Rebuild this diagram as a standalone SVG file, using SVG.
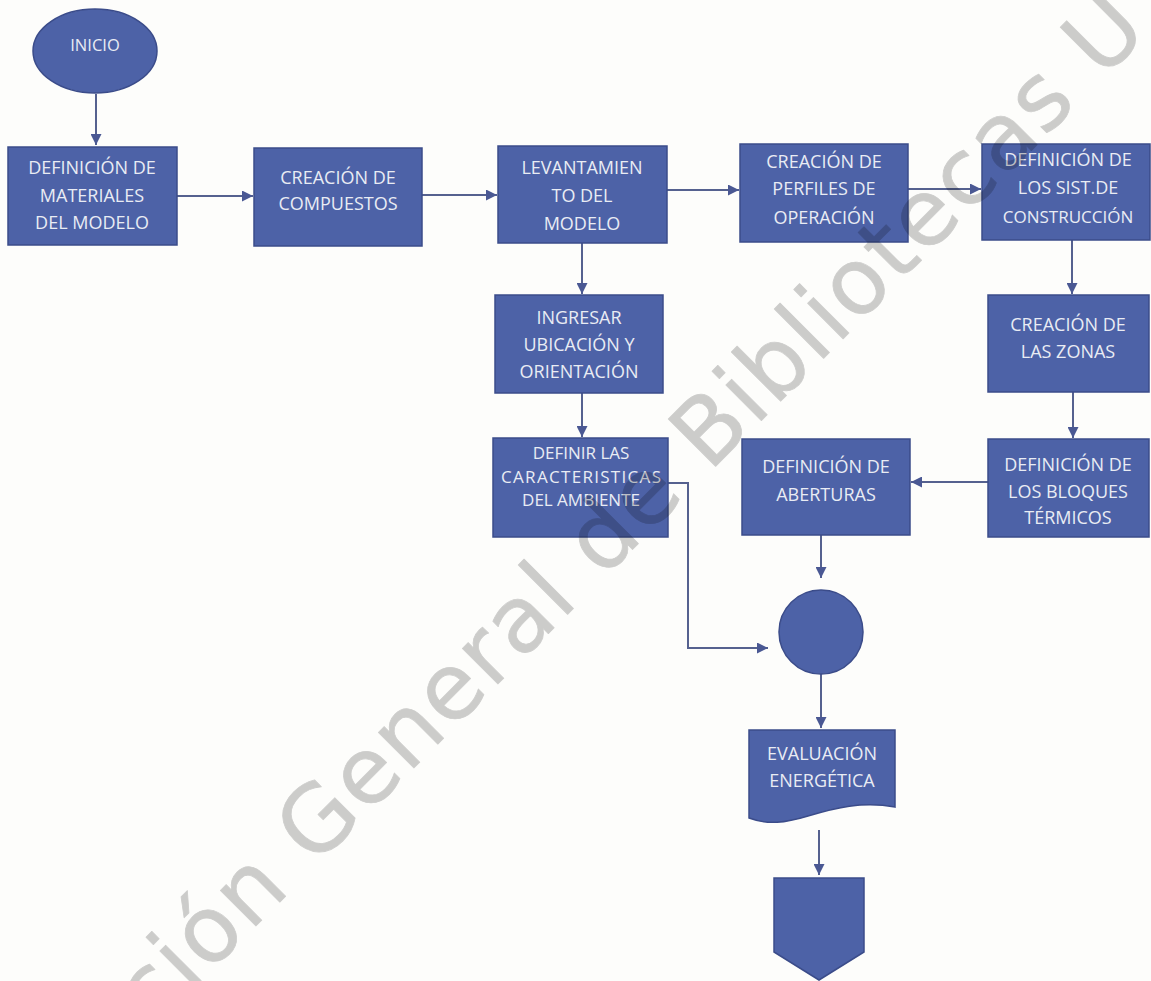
<svg xmlns="http://www.w3.org/2000/svg" width="1151" height="981" viewBox="0 0 1151 981">
<defs>
<style>
.n{fill:#4d62a7;stroke:#3b4c8a;stroke-width:1.5}
.t{font-family:"Open Sans","Liberation Sans",sans-serif;font-size:18px;fill:#e9ecf4;text-anchor:middle}
.c{fill:none;stroke:#55618f;stroke-width:2;marker-end:url(#ah)}
.wm{font-family:"DejaVu Sans","Liberation Sans",sans-serif;font-size:92px;letter-spacing:2px;fill:#000;stroke:#000;stroke-width:0.8;stroke-linejoin:round}
</style>
<marker id="ah" viewBox="0 0 10 10" refX="10" refY="5" markerWidth="11" markerHeight="11" markerUnits="userSpaceOnUse" orient="auto">
<path d="M0,0 L10,5 L0,10 z" fill="#4a5893"/>
</marker>
</defs>
<rect width="1151" height="981" fill="#fdfdfb"/>
<g id="connectors">
<path class="c" d="M96,94 V145"/>
<path class="c" d="M177,196 H253"/>
<path class="c" d="M422,195 H497"/>
<path class="c" d="M667,190 H739"/>
<path class="c" d="M908,189 H981"/>
<path class="c" d="M582,243 V294"/>
<path class="c" d="M582,393 V437"/>
<path class="c" d="M1072,240 V294"/>
<path class="c" d="M1073,392 V438"/>
<path class="c" d="M988,482 H911"/>
<path class="c" d="M668,483 H688 V648 H768"/>
<path class="c" d="M821,535 V578"/>
<path class="c" d="M821,674 V728"/>
<path class="c" d="M819,830 V875"/>
</g>
<g id="inicio">
<ellipse class="n" cx="95" cy="51" rx="62" ry="42"/>
<text class="t" x="95" y="51" style="font-size:16.5px">INICIO</text>
</g>
<g id="materiales">
<rect class="n" x="8" y="147" width="169" height="98"/>
<text class="t" x="92" y="174">DEFINICIÓN DE</text>
<text class="t" x="92" y="202">MATERIALES</text>
<text class="t" x="92" y="229">DEL MODELO</text>
</g>
<g id="compuestos">
<rect class="n" x="254" y="148" width="168" height="98"/>
<text class="t" x="338" y="184">CREACIÓN DE</text>
<text class="t" x="338" y="210">COMPUESTOS</text>
</g>
<g id="levantamiento">
<rect class="n" x="498" y="146" width="169" height="97"/>
<text class="t" x="582" y="174">LEVANTAMIEN</text>
<text class="t" x="582" y="202">TO DEL</text>
<text class="t" x="582" y="230">MODELO</text>
</g>
<g id="perfiles">
<rect class="n" x="740" y="144" width="168" height="98"/>
<text class="t" x="824" y="168">CREACIÓN DE</text>
<text class="t" x="824" y="195">PERFILES DE</text>
<text class="t" x="824" y="224">OPERACIÓN</text>
</g>
<g id="sistemas">
<rect class="n" x="982" y="144" width="168" height="96"/>
<text class="t" x="1068" y="166">DEFINICIÓN DE</text>
<text class="t" x="1068" y="194">LOS SIST.DE</text>
<text class="t" x="1068" y="223" style="font-size:17px">CONSTRUCCIÓN</text>
</g>
<g id="ubicacion">
<rect class="n" x="495" y="295" width="168" height="98"/>
<text class="t" x="579" y="324">INGRESAR</text>
<text class="t" x="579" y="351">UBICACIÓN Y</text>
<text class="t" x="579" y="378">ORIENTACIÓN</text>
</g>
<g id="ambiente">
<rect class="n" x="493" y="438" width="175" height="99"/>
<text class="t" x="581" y="459" style="font-size:17px">DEFINIR LAS</text>
<text class="t" x="581" y="483" style="font-size:17px" textLength="160" lengthAdjust="spacing">CARACTERISTICAS</text>
<text class="t" x="581" y="506" style="font-size:17px">DEL AMBIENTE</text>
</g>
<g id="zonas">
<rect class="n" x="988" y="295" width="161" height="97"/>
<text class="t" x="1068" y="331">CREACIÓN DE</text>
<text class="t" x="1068" y="358">LAS ZONAS</text>
</g>
<g id="bloques">
<rect class="n" x="988" y="439" width="161" height="98"/>
<text class="t" x="1068" y="471">DEFINICIÓN DE</text>
<text class="t" x="1068" y="498">LOS BLOQUES</text>
<text class="t" x="1068" y="524">TÉRMICOS</text>
</g>
<g id="aberturas">
<rect class="n" x="742" y="439" width="168" height="96"/>
<text class="t" x="826" y="473">DEFINICIÓN DE</text>
<text class="t" x="826" y="501">ABERTURAS</text>
</g>
<g id="conector">
<circle class="n" cx="821" cy="632" r="42"/>
</g>
<g id="evaluacion">
<path class="n" d="M749,730 H895 V807 C862,801 835,808 808,816 C785,823 768,825 749,818 Z"/>
<text class="t" x="822" y="760">EVALUACIÓN</text>
<text class="t" x="822" y="787">ENERGÉTICA</text>
</g>
<g id="fin">
<path class="n" d="M774,878 H864 V952 L819,980 L774,952 Z"/>
</g>
<g id="watermark" opacity="0.19">
<text class="wm" transform="translate(152,1030) rotate(-45)" x="0" y="0">ción General de Bibliotecas U</text>
</g>
</svg>
